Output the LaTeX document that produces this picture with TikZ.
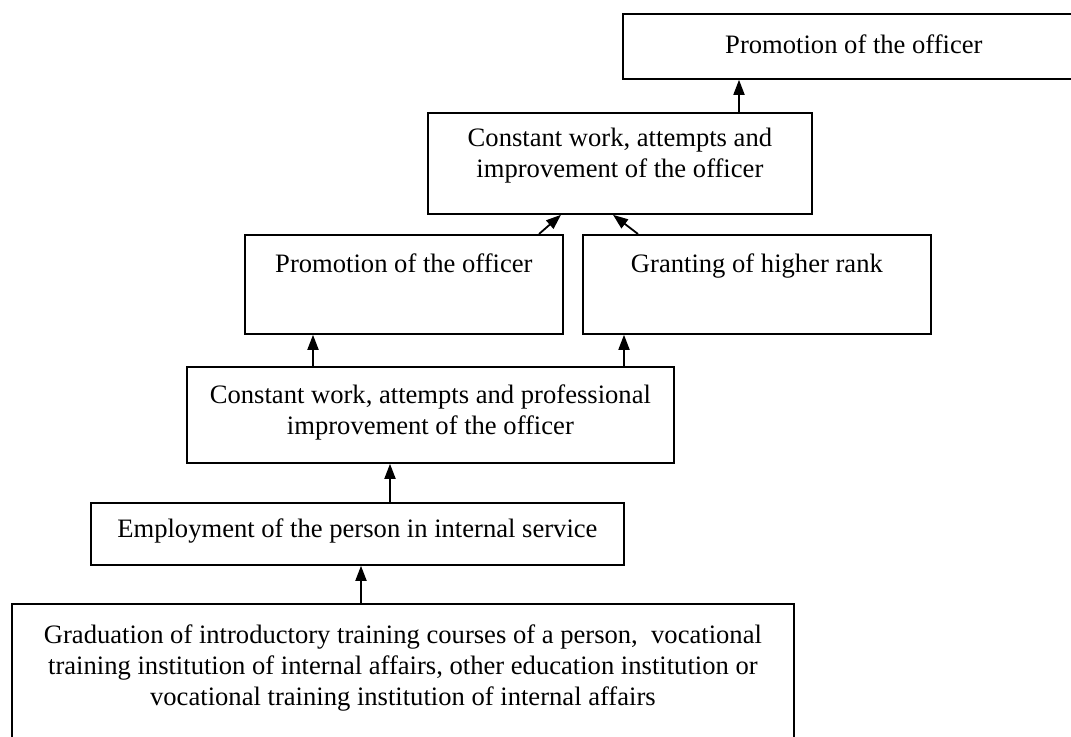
\documentclass[tikz,border=0pt]{standalone}
\usepackage{fontspec}
\setmainfont{Liberation Serif}
\usetikzlibrary{arrows.meta,calc}
\begin{document}
\begin{tikzpicture}[x=0.5pt,y=-0.5pt,
  boxn/.style={draw, line width=0.9pt, inner sep=0pt, anchor=north west},
  txt/.style={anchor=north, inner sep=0pt, align=center, font=\fontsize{13.3}{15.5}\selectfont},
  arr/.style={line width=0.9pt, -{Triangle[width=5.5pt,length=7.5pt]}}]
\useasboundingbox (0,0) rectangle (1071,736);
\fill[white] (0,0) rectangle (1071,736);
\clip (0,0) rectangle (1071,736);
% boxes
\node[boxn, minimum width=231pt, minimum height=32.5pt] (b1) at (622,13) {};
\node[boxn, minimum width=192pt, minimum height=50.5pt] (b2) at (427,112) {};
\node[boxn, minimum width=159pt, minimum height=49.5pt] (b3) at (244,234) {};
\node[boxn, minimum width=174pt, minimum height=49.5pt] (b4) at (582,234) {};
\node[boxn, minimum width=243.5pt, minimum height=48pt] (b5) at (186,366) {};
\node[boxn, minimum width=266.5pt, minimum height=31pt] (b6) at (90,502) {};
\node[boxn, minimum width=391pt, minimum height=71pt] (b7) at (11,603) {};
% texts
\node[txt] (t1) at ($(b1.north)+(0,21)$) {Promotion of the officer};
\node[txt] (t2) at ($(b2.north)+(0,16)$) {Constant work, attempts and\\improvement of the officer};
\node[txt] (t3) at ($(b3.north)+(0,19)$) {Promotion of the officer};
\node[txt] (t4) at ($(b4.north)+(0,19)$) {Granting of higher rank};
\node[txt] (t5) at ($(b5.north)+(0,18)$) {Constant work, attempts and professional\\improvement of the officer};
\node[txt] (t6) at ($(b6.north)+(0,16)$) {Employment of the person in internal service};
\node[txt] (t7) at ($(b7.north)+(0,21)$) {Graduation of introductory training courses of a person, \ vocational\\training institution of internal affairs, other education institution or\\vocational training institution of internal affairs};
% arrow columns
\coordinate (xa) at (361,0);
\coordinate (xb) at (390,0);
\coordinate (xc) at (313,0);
\coordinate (xd) at (624,0);
\coordinate (xe) at (539,0);
\coordinate (xf) at (561,0);
\coordinate (xg) at (638,0);
\coordinate (xh) at (613,0);
\coordinate (xi) at (739,0);
% arrows
\draw[arr] (b7.north -| xa) -- (b6.south -| xa);
\draw[arr] (b6.north -| xb) -- (b5.south -| xb);
\draw[arr] (b5.north -| xc) -- (b3.south -| xc);
\draw[arr] (b5.north -| xd) -- (b4.south -| xd);
\draw[arr] (b3.north -| xe) -- (b2.south -| xf);
\draw[arr] (b4.north -| xg) -- (b2.south -| xh);
\draw[arr] (b2.north -| xi) -- (b1.south -| xi);
\end{tikzpicture}
\end{document}
